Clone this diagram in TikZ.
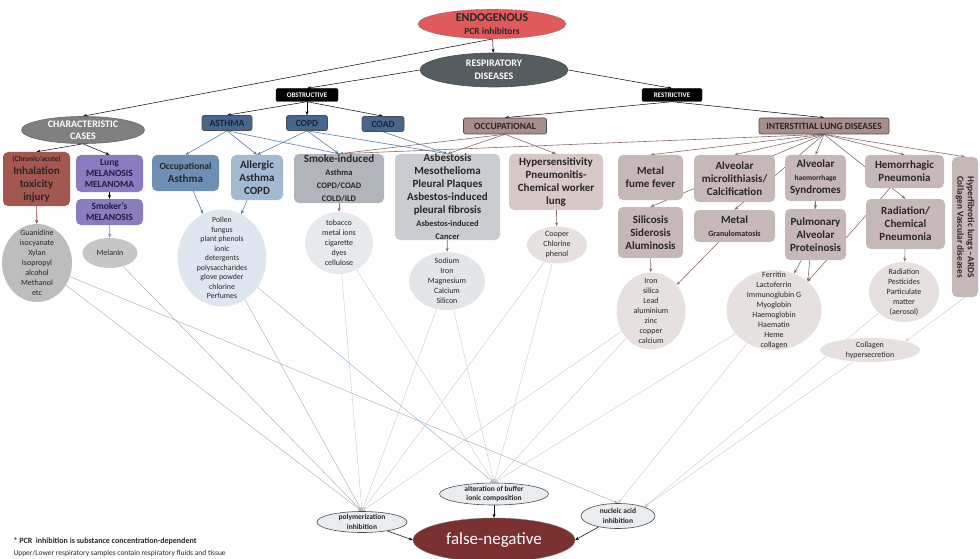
\documentclass[tikz,border=0pt]{standalone}
\usepackage{fontspec}
\setmainfont{Carlito}
\usetikzlibrary{shapes.geometric,arrows.meta}

\definecolor{endored}{HTML}{E05A5C}
\definecolor{respgrey}{HTML}{565D61}
\definecolor{casegrey}{HTML}{808080}
\definecolor{copdblue}{HTML}{46668E}
\definecolor{navytext}{HTML}{17263A}
\definecolor{occbrown}{HTML}{A98D8A}
\definecolor{textdark}{HTML}{262626}
\definecolor{inhalred}{HTML}{A4574F}
\definecolor{melpurple}{HTML}{8B7BBF}
\definecolor{meltext}{HTML}{231C45}
\definecolor{occasthblue}{HTML}{6E8FB4}
\definecolor{allergblue}{HTML}{A3BAD3}
\definecolor{smokegrey}{HTML}{AFB5BA}
\definecolor{asbestgrey}{HTML}{C9CDD1}
\definecolor{hypbrown}{HTML}{D8C8C6}
\definecolor{ildbrown}{HTML}{C6B8B6}
\definecolor{guangrey}{HTML}{BDBDBD}
\definecolor{melgrey}{HTML}{C6C6C6}
\definecolor{pollenblue}{HTML}{DEE6EF}
\definecolor{tobacgrey}{HTML}{E7EAEC}
\definecolor{sodiumgrey}{HTML}{E3E6E8}
\definecolor{palebrown}{HTML}{E6E0DF}
\definecolor{mechfill}{HTML}{E9EDF0}
\definecolor{falsered}{HTML}{7B3030}
\definecolor{linkblue}{HTML}{5A7EA8}
\definecolor{linkbrown}{HTML}{8A6B67}
\definecolor{linkgrey}{HTML}{A6A6A6}
\definecolor{linksky}{HTML}{8EABD0}
\definecolor{linklight}{HTML}{C5C8CA}
\definecolor{linkpale}{HTML}{D2C4C2}

\newcommand{\fsz}[2]{\fontsize{#1}{#2}\selectfont}

\pgfdeclarelayer{back}
\pgfsetlayers{back,main}

\tikzset{
  oval/.style={ellipse, draw=#1, inner sep=0pt, align=center, line width=0.6pt},
  tagbox/.style={rectangle, rounded corners=2pt, draw=black, fill=black, text=white, inner sep=0pt, font=\bfseries\fsz{7}{8}},
  cat/.style={rectangle, rounded corners=2pt, draw=black!70, line width=0.6pt, inner sep=0pt, font=\bfseries\fsz{9.5}{11}},
  dbox/.style={rectangle, rounded corners=5pt, inner sep=0pt, align=center, text=textdark, font=\bfseries\fsz{11}{13}},
  chem/.style={ellipse, inner sep=0pt, fill=#1},
  chemtxt/.style={align=center, text=textdark, font=\fsz{8}{10}},
  mech/.style={ellipse, draw=black!70, fill=mechfill, inner xsep=0pt, inner ysep=-2pt, align=center, text=textdark, line width=0.6pt, font=\bfseries\fsz{7.5}{9.5}},
  blk/.style={->, black, line width=0.5pt},
  blu/.style={->, linkblue, line width=0.6pt},
  brn/.style={->, linkbrown, line width=0.6pt},
  fine/.style={->, #1, line width=0.4pt}
}

\begin{document}
\begin{tikzpicture}[x=1pt, y=-1pt, >={Stealth[length=4pt,width=3pt]}]
    \useasboundingbox (0,0) rectangle (980,559);

    % top of the tree
    \node[oval=black!60, fill=endored, densely dotted, text=black!85, minimum width=148pt, minimum height=28pt, font=\bfseries\fsz{12}{13}] (endo) at (492,24) {ENDOGENOUS\\{\fsz{9.5}{11}PCR inhibitors}};
    \node[oval=black!70, fill=respgrey, text=white, minimum width=148pt, minimum height=34pt, font=\bfseries\fsz{10}{13}] (resp) at (494,70) {RESPIRATORY\\DISEASES};

    \node[tagbox, minimum width=62pt, minimum height=13pt] (obst) at (307,95) {OBSTRUCTIVE};
    \node[tagbox, minimum width=60pt, minimum height=13pt] (restr) at (672,95) {RESTRICTIVE};

    \node[oval=black!60, fill=casegrey, text=white, minimum width=123pt, minimum height=27pt, font=\bfseries\fsz{10}{12}] (cases) at (83,130) {CHARACTERISTIC\\CASES};

    \node[cat, fill=copdblue, text=navytext, minimum width=50pt, minimum height=15pt] (asthma) at (227,123) {ASTHMA};
    \node[cat, fill=copdblue, text=navytext, minimum width=41pt, minimum height=15pt] (copd) at (307,123) {COPD};
    \node[cat, fill=copdblue, text=navytext, minimum width=42pt, minimum height=15pt] (coad) at (383,124) {COAD};
    \node[cat, fill=occbrown, text=textdark, minimum width=83pt, minimum height=16pt] (occup) at (505,126) {OCCUPATIONAL};
    \node[cat, fill=occbrown, text=textdark, minimum width=130pt, minimum height=16pt] (ild) at (824,126) {INTERSTITIAL LUNG DISEASES};

    % disease boxes
    \node[dbox, fill=inhalred, minimum width=67pt, minimum height=54pt] (inhal) at (36.5,179) {{\fsz{7.5}{9}(Chronic/acute)}\\Inhalation\\toxicity\\injury};
    \node[dbox, fill=melpurple, text=meltext, minimum width=67pt, minimum height=37pt, font=\bfseries\fsz{9.5}{11}] (lungmel) at (109.5,173.5) {Lung\\MELANOSIS\\MELANOMA};
    \node[dbox, fill=melpurple, text=meltext, minimum width=67pt, minimum height=26pt, font=\bfseries\fsz{9.5}{11}] (smokmel) at (109.5,212) {Smoker’s\\MELANOSIS};
    \node[dbox, fill=occasthblue, minimum width=67pt, minimum height=36pt] (occasth) at (185.5,173) {{\fsz{9.5}{11}Occupational}\\Asthma};
    \node[dbox, fill=allergblue, minimum width=52pt, minimum height=45pt] (allerg) at (257,177.5) {Allergic\\Asthma\\COPD};
    \node[dbox, fill=smokegrey, minimum width=90pt, minimum height=49pt] (smoke) at (339,178.5) {Smoke-induced\\{\fsz{8.5}{10.5}Asthma}\\{\fsz{8.5}{10.5}COPD/COAD}\\{\fsz{8.5}{10.5}COLD/ILD}};
    \node[dbox, fill=asbestgrey, minimum width=105pt, minimum height=86pt] (asbest) at (447.5,197) {Asbestosis\\Mesothelioma\\Pleural Plaques\\Asbestos-induced\\pleural fibrosis\\{\fsz{8.5}{10}Asbestos-induced}\\{\fsz{8.5}{10}Cancer}};
    \node[dbox, fill=hypbrown, minimum width=94pt, minimum height=56pt] (hypsens) at (556,182) {Hypersensitivity\\Pneumonitis-\\Chemical worker\\lung};
    \node[dbox, fill=ildbrown, minimum width=65pt, minimum height=45pt] (fume) at (650.5,177.5) {Metal\\fume fever};
    \node[dbox, fill=ildbrown, minimum width=81pt, minimum height=47pt] (micro) at (734.5,178.5) {Alveolar\\microlithiasis/\\Calcification};
    \node[dbox, fill=ildbrown, minimum width=61pt, minimum height=46pt] (haem) at (815.5,178) {Alveolar\\{\fsz{7.5}{9}haemorrhage}\\Syndromes};
    \node[dbox, fill=ildbrown, minimum width=79pt, minimum height=33pt] (hemopn) at (904.5,171.5) {Hemorrhagic\\Pneumonia};
    \node[dbox, fill=ildbrown, rotate=-90, minimum width=140pt, minimum height=26pt, font=\bfseries\fsz{9.3}{10.5}] (hyperf) at (965,227) {Hyperfibrotic lungs --ARDS\\Collagen Vascular diseases};
    \node[dbox, fill=ildbrown, minimum width=65pt, minimum height=51pt] (silic) at (650.5,232.5) {Silicosis\\Siderosis\\Aluminosis};
    \node[dbox, fill=ildbrown, minimum width=81pt, minimum height=32pt] (metgran) at (734.5,226) {Metal\\{\fsz{8}{10}Granulomatosis}};
    \node[dbox, fill=ildbrown, minimum width=61pt, minimum height=51pt] (pap) at (815.5,234.5) {Pulmonary\\Alveolar\\Proteinosis};
    \node[dbox, fill=ildbrown, minimum width=79pt, minimum height=50pt] (radchem) at (905.5,224) {Radiation/\\Chemical\\Pneumonia};

    % substances
    \node[chem=guangrey, minimum width=70pt, minimum height=78pt, label={[chemtxt]center:{Guanidine\\isocyanate\\Xylan\\Isopropyl\\alcohol\\Methanol\\etc}}] (guan) at (37,263) {};
    \node[chem=melgrey, minimum width=55pt, minimum height=30pt, label={[chemtxt]center:{Melanin}}] (melanin) at (110,253) {};
    \node[chem=pollenblue, minimum width=89pt, minimum height=97pt, label={[chemtxt, font=\fsz{7.8}{9.5}]center:{Pollen\\fungus\\plant phenols\\ionic\\detergents\\polysaccharides\\glove powder\\chlorine\\Perfumes}}] (pollen) at (222,258) {};
    \node[chem=tobacgrey, minimum width=68pt, minimum height=62pt, label={[chemtxt]center:{tobacco\\metal ions\\cigarette\\dyes\\cellulose}}] (tobac) at (339,243) {};
    \node[chem=sodiumgrey, minimum width=76pt, minimum height=58pt, label={[chemtxt]center:{Sodium\\Iron\\Magnesium\\Calcium\\Silicon}}] (sodium) at (447,281) {};
    \node[chem=palebrown, minimum width=60pt, minimum height=37pt, label={[chemtxt]center:{Cooper\\Chlorine\\phenol}}] (cooper) at (557,245) {};
    \node[chem=palebrown, minimum width=69pt, minimum height=77pt, label={[chemtxt]center:{Iron\\silica\\Lead\\aluminium\\zinc\\copper\\calcium}}] (iron) at (651,311) {};
    \node[chem=palebrown, minimum width=95pt, minimum height=80pt, label={[chemtxt]center:{Ferritin\\Lactoferrin\\Immunoglubin G\\Myoglobin\\Haemoglobin\\Haematin\\Heme\\collagen}}] (ferrit) at (774,310) {};
    \node[chem=palebrown, minimum width=70pt, minimum height=60pt, label={[chemtxt]center:{Radiation\\Pesticides\\Particulate\\matter\\(aerosol)}}] (radiat) at (904,292) {};
    \node[chem=palebrown, minimum width=100pt, minimum height=24pt, label={[chemtxt]center:{Collagen\\hypersecretion}}] (collag) at (870,350) {};

    % mechanisms
    \node[mech, minimum width=90pt, minimum height=21pt] (polym) at (362,522) {polymerization\\inhibition};
    \node[mech, minimum width=109pt, minimum height=22pt] (buffer) at (494,494) {alteration of buffer\\ionic composition};
    \node[mech, minimum width=74pt, minimum height=25pt] (nucleic) at (618,516) {nucleic acid\\inhibition};
    \node[ellipse, fill=falsered, draw=black!50, text=white, minimum width=162pt, minimum height=44pt, font=\fsz{17}{20}] (falseneg) at (494,540) {false-negative};

    \node[anchor=west, align=left, text=textdark, font=\fsz{7.5}{12}] (note) at (10,547) {{\bfseries\fsz{8}{12}* PCR~~inhibition is substance concentration-dependent}\\Upper/Lower respiratory samples contain respiratory fluids and tissue};

    \begin{pgfonlayer}{back}
    \draw[blk] (endo) -- (resp);
    \draw[blk] (endo.south) -- (cases.north);
    \draw[blk] (resp.west) -- (obst.north);
    \draw[blk] (resp.east) -- (restr.north);
    \foreach \t in {asthma, copd, coad}
        \draw[blk] (obst.south) -- (\t.north);
    \draw[blk] (restr.south) -- (occup.north);
    \draw[blk] (restr.south) -- (ild.north);

    \draw[blk] (cases.south) -- (inhal.north);
    \draw[blk] (cases.south) -- (lungmel.north);
    \draw[blk] (lungmel) -- (smokmel);

    \draw[blu] (asthma.south) -- (occasth.north);
    \draw[blu] (asthma.south) -- (allerg.north);
    \draw[blu] (asthma.south) -- (smoke.north);
    \draw[blu] (copd.south) -- (allerg.north);
    \draw[blu] (copd.south) -- (smoke.north);
    \draw[blu] (copd.south) -- (asbest.north);
    \draw[blu] (coad.south) -- (asbest.north);

    \foreach \t in {smoke, asbest, hypsens}
        \draw[brn] (occup.south) -- (\t.north);
    \foreach \t in {smoke, fume, micro, silic, metgran, haem, hemopn, radchem}
        \draw[brn] (ild.south) -- (\t.north);
    \draw[brn] (ild.south) -- (hyperf.west);

    % boxes to substances
    \draw[->, inhalred!80!black, line width=0.6pt] (inhal) -- (guan);
    \draw[->, melpurple, line width=0.6pt] (smokmel) -- (melanin);
    \draw[blu] (occasth) -- (pollen);
    \draw[blu] (allerg) -- (pollen);
    \draw[brn] (smoke) -- (tobac);
    \draw[->, black!55, line width=0.6pt] (asbest) -- (sodium);
    \draw[brn] (hypsens) -- (cooper);
    \draw[brn] (silic) -- (iron);
    \draw[brn] (metgran) -- (iron);
    \draw[brn] (haem) -- (pap);
    \draw[brn] (pap) -- (ferrit);
    \draw[brn] (haem.south) -- (ferrit.north east);
    \draw[brn] (hemopn) -- (ferrit.north east);
    \draw[brn] (radchem) -- (radiat);
    \draw[fine=linkpale] (hyperf.east) -- (collag.north east);

    % substances to mechanisms
    \foreach \s/\c in {guan/linkgrey, melanin/linkgrey, pollen/linksky, tobac/linklight, sodium/linklight, cooper/linkpale, iron/linkpale}
        \draw[fine=\c] (\s) -- (polym.north);
    \foreach \s/\c in {pollen/linksky, tobac/linklight, sodium/linklight, cooper/linkpale, iron/linkpale, ferrit/linkpale}
        \draw[fine=\c] (\s) -- (buffer.north);
    \draw[fine=linkgrey] (guan) -- (nucleic.north);
    \draw[fine=linkpale] (ferrit) -- (nucleic.north);
    \draw[fine=linkpale] (radiat) -- (nucleic.north east);
    \draw[fine=linkpale] (collag) -- (nucleic.north east);

    \draw[blk] (polym) -- (falseneg.west);
    \draw[blk] (buffer) -- (falseneg);
    \draw[blk] (nucleic) -- (falseneg.east);
    \end{pgfonlayer}

\end{tikzpicture}
\end{document}
